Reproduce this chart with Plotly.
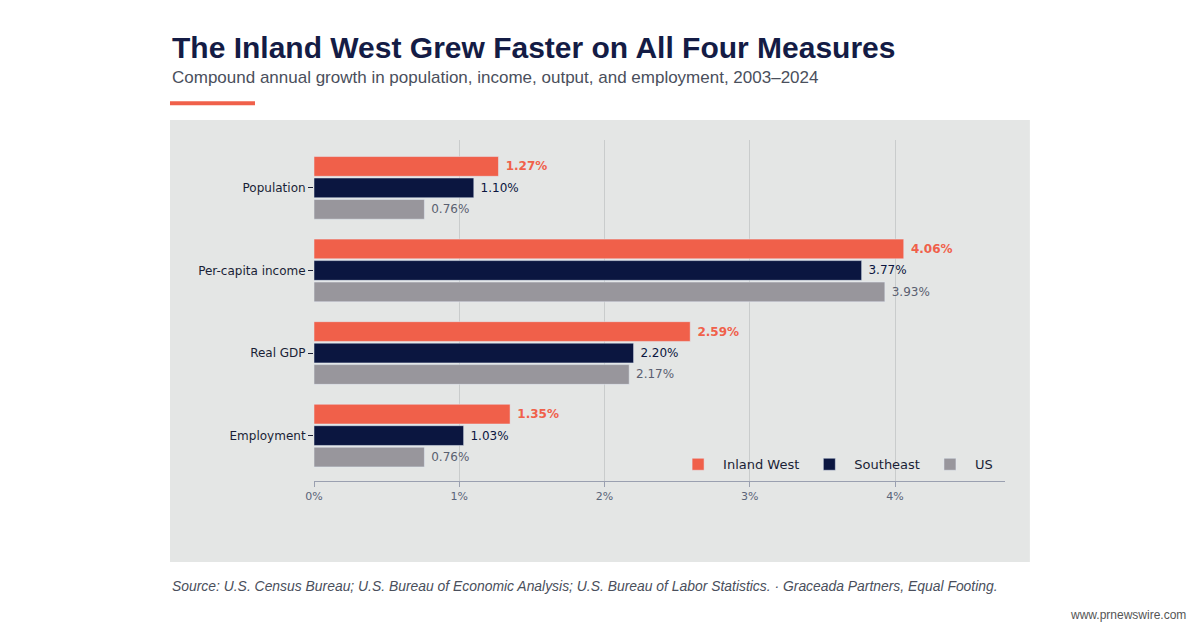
import plotly.graph_objects as go

categories = ["Population", "Per-capita income", "Real GDP", "Employment"]
series = ["Inland West", "Southeast", "US"]
inland_west = [1.27, 4.06, 2.59, 1.35]
southeast = [1.10, 3.77, 2.20, 1.03]
us = [0.76, 3.93, 2.17, 0.76]
tick_vals = [0, 1, 2, 3, 4]
tick_text = ["0%", "1%", "2%", "3%", "4%"]

colors = ["#f0604a", "#0b1640", "#98969c"]
label_colors = ["#f0604a", "#0b1640", "#5a6070"]

fig = go.Figure()
for name, vals, c, lc in zip(series, [inland_west, southeast, us], colors, label_colors):
    fig.add_trace(go.Bar(
        y=categories, x=vals, name=name, orientation="h",
        marker_color=c,
        text=[f"<b> {v:.2f}%</b>" if name == "Inland West" else f" {v:.2f}%" for v in vals],
        textposition="outside", textfont=dict(color=lc, size=12, family="DejaVu Sans"),
        cliponaxis=False,
    ))

fig.update_layout(
    width=1200, height=629,
    paper_bgcolor="white", plot_bgcolor="rgba(0,0,0,0)",
    margin=dict(l=306, r=203, t=132, b=156),
    barmode="group", bargap=0.22, bargroupgap=0.08,
    font=dict(family="DejaVu Sans", size=12, color="#1a1f36"),
    xaxis=dict(range=[0, 4.757], tickvals=tick_vals, ticktext=tick_text,
               showgrid=True, gridcolor="#c9cccc", zeroline=False,
               showline=True, linecolor="#9aa0b0", ticks="outside", tickcolor="#9aa0b0",
               tickfont=dict(color="#5a6478", size=11)),
    yaxis=dict(range=[3.55, -0.58], showgrid=False, ticks="outside",
               tickcolor="#1a1f36", ticklen=5, tickfont=dict(size=12, color="#1a1f36")),
    legend=dict(orientation="h", x=0.99, y=0.005, xanchor="right", yanchor="bottom",
                bgcolor="rgba(0,0,0,0)", font=dict(size=13, color="#1a1f36"),
                traceorder="normal", itemwidth=40),
    showlegend=True,
    shapes=[
        dict(type="rect", xref="paper", yref="paper", x0=-0.2084, x1=1.036, y0=-0.2375, y1=1.0587,
             fillcolor="#e4e6e5", line_width=0, layer="below"),
        dict(type="line", xref="paper", yref="paper", x0=-0.2084, x1=-0.0854, y0=1.108, y1=1.108,
             line=dict(color="#f0604a", width=4)),
    ],
    annotations=[
        dict(text="<b>The Inland West Grew Faster on All Four Measures</b>", xref="paper", yref="paper",
             x=-0.2084, y=1.27, xanchor="left", yanchor="middle", showarrow=False,
             font=dict(family="Liberation Sans", size=30, color="#141c45")),
        dict(text="Compound annual growth in population, income, output, and employment, 2003–2024",
             xref="paper", yref="paper", x=-0.2084, y=1.182, xanchor="left", yanchor="middle",
             showarrow=False, font=dict(family="Liberation Sans", size=17, color="#4a4f5c")),
        dict(text="<i>Source: U.S. Census Bureau; U.S. Bureau of Economic Analysis; U.S. Bureau of Labor Statistics. · Graceada Partners, Equal Footing.</i>",
             xref="paper", yref="paper", x=-0.2084, y=-0.308, xanchor="left", yanchor="middle",
             showarrow=False, font=dict(family="Liberation Sans", size=13.9, color="#4a4f5c")),
        dict(text="www.prnewswire.com", xref="paper", yref="paper", x=1.265, y=-0.393,
             xanchor="right", yanchor="middle", showarrow=False,
             font=dict(family="Liberation Sans", size=12, color="#555")),
    ],
)

fig.write_html("out.html")
